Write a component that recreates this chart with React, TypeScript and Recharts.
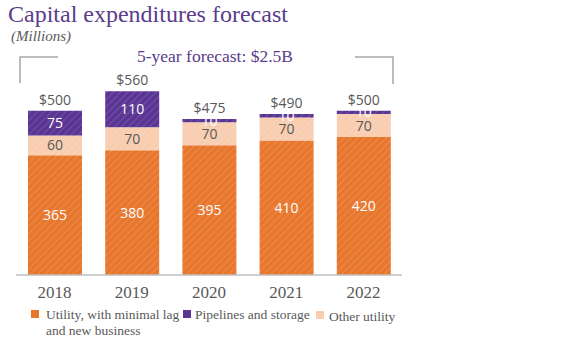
import React from "react";
import { BarChart, Bar, XAxis, YAxis, LabelList } from "recharts";

const years = ["2018", "2019", "2020", "2021", "2022"];
const utility = [365, 380, 395, 410, 420];
const otherUtility = [60, 70, 70, 70, 70];
const pipelines = [75, 110, 10, 10, 10];
const totals = [500, 560, 475, 490, 500];

const data = years.map((year, i) => ({
  year,
  utility: utility[i],
  other: otherUtility[i],
  pipelines: pipelines[i],
  total: totals[i],
}));

const ORANGE = "#E8772E";
const PURPLE = "#5A3594";
const PEACH = "#F8CDB0";
const TITLE = "#5B3C8C";
const GREY = "#595959";
const SERIF = "'Liberation Serif', 'DejaVu Serif', serif";
const SANS = "'Open Sans', 'Liberation Sans', sans-serif";

const Hatch = ({ id, color }: { id: string; color: string }) => (
  <pattern id={id} width="5" height="5" patternUnits="userSpaceOnUse" patternTransform="rotate(45)">
    <rect width="5" height="5" fill={color} />
    <line x1="0" y1="0" x2="0" y2="5" stroke="#ffffff" strokeOpacity={0.28} strokeWidth={1} />
  </pattern>
);

export default function App() {
  return (
    <div style={{ position: "absolute", left: 0, top: 0, width: 575, height: 340, background: "#fff" }}>
      <svg width={575} height={340} style={{ position: "absolute", left: 0, top: 0 }}>
        <text x={8} y={22} fontFamily={SERIF} fontSize={24} fill={TITLE}>
          Capital expenditures forecast
        </text>
        <text x={11} y={41} fontFamily={SERIF} fontSize={15} fontStyle="italic" fill={GREY}>
          (Millions)
        </text>
        <text x={215} y={62} fontFamily={SERIF} fontSize={17.5} fill={TITLE} textAnchor="middle">
          5-year forecast: $2.5B
        </text>
        <polyline points="58,57 20,57 20,83" fill="none" stroke="#a6a6a6" strokeWidth={1.5} />
        <polyline points="355,57 393,57 393,84" fill="none" stroke="#a6a6a6" strokeWidth={1.5} />

        <rect x={31} y={310} width={8} height={8} fill={ORANGE} />
        <text x={46} y={319} fontFamily={SERIF} fontSize={13.5} fill={GREY}>
          Utility, with minimal lag
        </text>
        <text x={46} y={335} fontFamily={SERIF} fontSize={13.5} fill={GREY}>
          and new business
        </text>
        <rect x={183} y={310} width={8} height={8} fill={PURPLE} />
        <text x={195} y={319} fontFamily={SERIF} fontSize={13.5} fill={GREY}>
          Pipelines and storage
        </text>
        <rect x={316} y={311} width={8} height={8} fill={PEACH} />
        <text x={329} y={321} fontFamily={SERIF} fontSize={13.5} fill={GREY}>
          Other utility
        </text>
      </svg>
      <div style={{ position: "absolute", left: 0, top: 0 }}>
        <BarChart
          width={575}
          height={340}
          data={data}
          margin={{ top: 78, right: 173, bottom: 35, left: 16 }}
          barSize={54}
        >
          <defs>
            <Hatch id="hOrange" color={ORANGE} />
            <Hatch id="hPurple" color={PURPLE} />
            <Hatch id="hPeach" color={PEACH} />
          </defs>
          <XAxis
            dataKey="year"
            height={30}
            tickLine={false}
            axisLine={{ stroke: "#bfbfbf", strokeWidth: 1.5 }}
            tick={{ fill: GREY, fontSize: 17, fontFamily: SERIF }}
            tickMargin={5}
          />
          <YAxis hide domain={[0, 600]} />
          <Bar dataKey="utility" stackId="a" fill="url(#hOrange)" isAnimationActive={false}>
            <LabelList dataKey="utility" position="center" fill="#ffffff" fontSize={14} fontFamily={SANS} />
          </Bar>
          <Bar dataKey="other" stackId="a" fill="url(#hPeach)" isAnimationActive={false}>
            <LabelList dataKey="other" position="center" fill={GREY} fontSize={14} fontFamily={SANS} />
          </Bar>
          <Bar dataKey="pipelines" stackId="a" fill="url(#hPurple)" isAnimationActive={false}>
            <LabelList dataKey="pipelines" position="center" fill="#ffffff" fontSize={14} fontFamily={SANS} />
            <LabelList
              dataKey="total"
              position="top"
              offset={6}
              fill={GREY}
              fontSize={14}
              fontFamily={SANS}
              formatter={(v: any) => `$${v}`}
            />
          </Bar>
        </BarChart>
      </div>
    </div>
  );
}
